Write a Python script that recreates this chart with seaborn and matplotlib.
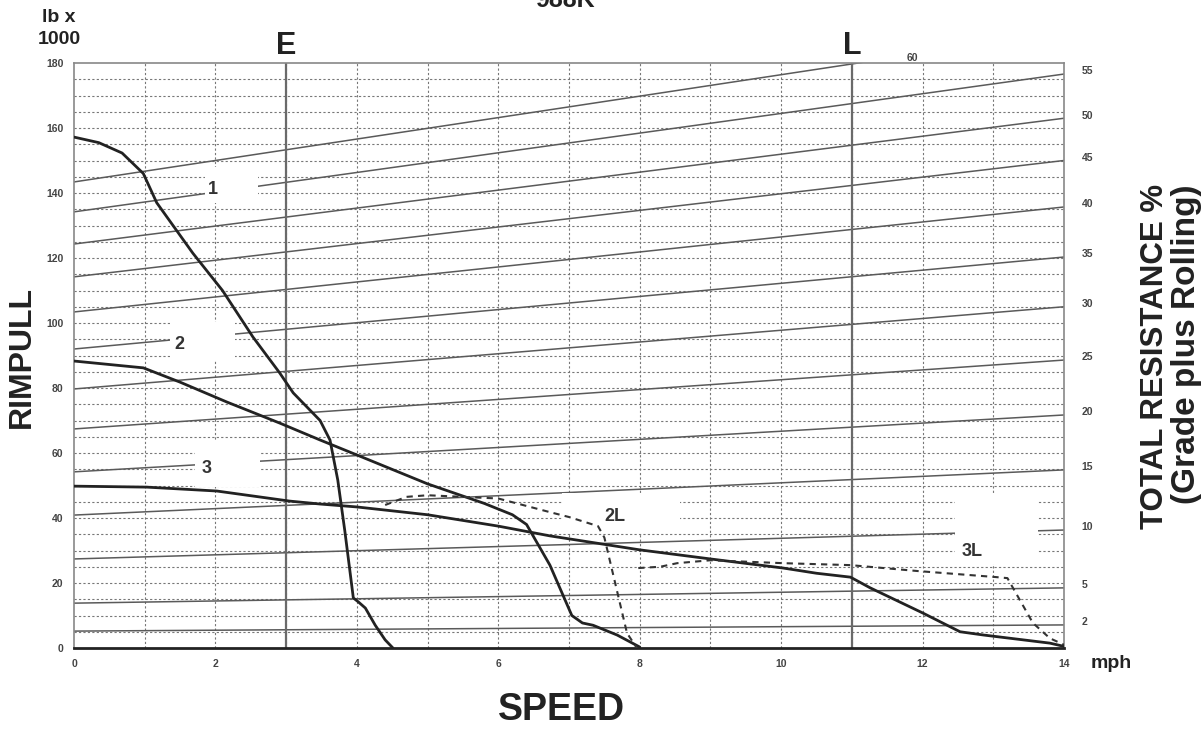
import numpy as np
import pandas as pd
import matplotlib.pyplot as plt
import seaborn as sns
from matplotlib.patches import Rectangle

# Total resistance lines (% grade plus rolling), rimpull in lb x 1000 at 0 and 14 mph
resistance_pct = [60, 55, 50, 45, 40, 35, 30, 25, 20, 15, 10, 5, 2]
rimpull_at_0 = [143.4, 134.2, 124.3, 114.2, 103.4, 92.0, 79.7, 67.4, 54.2, 40.9, 27.4, 13.8, 5.2]
rimpull_at_14 = [189.6, 176.6, 163.0, 150.0, 135.7, 120.3, 105.0, 88.6, 71.7, 54.8, 36.3, 18.5, 7.1]

# Rimpull curves per gear
gear1_speed = [0, 0.35, 0.68, 0.98, 1.17, 1.68, 2.1, 2.53, 2.91, 3.1, 3.48, 3.62, 3.73, 3.83, 3.9, 3.95,
               4.02, 4.12, 4.26, 4.4, 4.51]
gear1_rimpull = [157.2, 155.5, 152.3, 146, 137, 121.5, 110, 95.7, 84.6, 78.5, 70, 64, 51.7, 36, 24, 15.4,
                 14.2, 12.3, 7, 2.5, 0]
gear2_speed = [0, 0.98, 1.5, 2.16, 2.91, 3.48, 4.0, 5.0, 5.8, 6.2, 6.4, 6.73, 7.04, 7.19, 7.34, 7.68, 8.0]
gear2_rimpull = [88.3, 86.2, 81.8, 75.7, 69.2, 64, 59.4, 50.5, 44.5, 41, 38, 25.5, 10, 7.7, 7, 4, 0.3]
gear3_speed = [0, 1.03, 2.02, 3.05, 3.48, 4, 5, 6, 6.73, 8, 9, 10.03, 10.5, 10.98, 11.26, 12.0, 12.53,
               12.86, 13.8, 14]
gear3_rimpull = [49.8, 49.5, 48.3, 45.2, 44.3, 43.4, 41, 37.5, 34.5, 30.2, 27.4, 24.6, 23, 21.8, 18.5,
                 10.8, 5, 4, 1.5, 0.5]
gear2L_speed = [4.4, 4.7, 5.0, 6.0, 6.73, 7.0, 7.41, 7.5, 7.62, 7.82, 7.95]
gear2L_rimpull = [44, 46.5, 47, 46, 41.8, 40.3, 37.5, 34, 23, 4.6, 0.3]
gear3L_speed = [7.98, 8.29, 8.53, 9.0, 10.03, 10.98, 11.92, 13.05, 13.2, 13.56, 13.8, 14.0]
gear3L_rimpull = [24.6, 25, 26.1, 27, 26.1, 25.5, 23.7, 21.8, 21.5, 7.7, 3, 1]

# Curve labels and the white patches behind them (x0, x1, y0, y1)
curve_labels = ['1', '2', '3', '2L', '3L']
label_pos = [(1.9, 141), (1.42, 93.5), (1.8, 55.2), (7.5, 40.6), (12.55, 29.7)]
label_boxes = [(1.85, 2.6, 137, 148), (1.36, 2.28, 88.6, 100.3), (1.71, 2.63, 49.5, 64),
               (6.9, 8.57, 35.4, 47.7), (12.46, 13.63, 26, 47)]

sns.set_style('white')
plt.rcParams['font.family'] = ['Liberation Sans', 'DejaVu Sans']

fig = plt.figure(figsize=(12.04, 7.29), dpi=100)
ax = fig.add_axes([74 / 1204, 1 - 648 / 729, 990 / 1204, 585 / 729])

grid_kw = dict(color='#777777', lw=0.8, ls=(0, (2, 2)), zorder=1)
for x in range(1, 14):
    ax.axvline(x, **grid_kw)
for y in range(5, 180, 5):
    ax.axhline(y, **grid_kw)

# Resistance lines
res = pd.DataFrame({
    'speed': [0] * len(resistance_pct) + [14] * len(resistance_pct),
    'rimpull': rimpull_at_0 + rimpull_at_14,
    'pct': resistance_pct * 2,
})
sns.lineplot(data=res, x='speed', y='rimpull', units='pct', estimator=None, color='#5a5a5a',
             lw=1.1, ax=ax, zorder=2)

# E and L lines
for x in [3, 11]:
    ax.axvline(x, color='#6a6a6a', lw=1.6, zorder=2)

for (x0, x1, y0, y1) in label_boxes:
    ax.add_patch(Rectangle((x0, y0), x1 - x0, y1 - y0, facecolor='white', edgecolor='none', zorder=3))

curve_kw = dict(color='#222222', lw=2, ax=ax, zorder=4)
sns.lineplot(x=gear1_speed, y=gear1_rimpull, **curve_kw)
sns.lineplot(x=gear2_speed, y=gear2_rimpull, **curve_kw)
sns.lineplot(x=gear3_speed, y=gear3_rimpull, **curve_kw)
dash_kw = dict(color='#333333', lw=1.5, ax=ax, zorder=4, linestyle=(0, (3, 2.5)))
sns.lineplot(x=gear2L_speed, y=gear2L_rimpull, **dash_kw)
sns.lineplot(x=gear3L_speed, y=gear3L_rimpull, **dash_kw)

for lab, (x, y) in zip(curve_labels, label_pos):
    ax.text(x, y, lab, fontsize=13, fontweight='bold', color='#333333', ha='left', va='center', zorder=5)

ax.set_xlim(0, 14)
ax.set_ylim(0, 180)
ax.set_xticks(range(0, 15, 2))
ax.set_yticks(range(0, 181, 20))
ax.tick_params(axis='both', labelsize=7.5, colors='#444444', length=4, width=0.8)
ax.tick_params(axis='x', length=0, pad=8)
for t in ax.get_xticklabels() + ax.get_yticklabels():
    t.set_fontweight('bold')
ax.set_xlabel('')
ax.set_ylabel('')
for side in ['left', 'top', 'right']:
    ax.spines[side].set_color('#888888')
    ax.spines[side].set_linewidth(1.2)
ax.spines['bottom'].set_color('#222222')
ax.spines['bottom'].set_linewidth(2)

# Right side resistance labels
for pct, y in zip(resistance_pct[1:], rimpull_at_14[1:]):
    ax.text(14.25, y + 0.8, str(pct), fontsize=7.5, fontweight='bold', color='#444444',
            ha='left', va='center', clip_on=False)
ax.text(11.85, 181.6, str(resistance_pct[0]), fontsize=7.5, fontweight='bold', color='#444444',
        ha='center', va='center', clip_on=False)

ax.text(3, 180.6, 'E', fontsize=22, fontweight='bold', color='#222222', ha='center', va='bottom', clip_on=False)
ax.text(11, 180.6, 'L', fontsize=22, fontweight='bold', color='#222222', ha='center', va='bottom', clip_on=False)

fig.text(59 / 1204, 1 - 17 / 729, 'lb x', fontsize=14, fontweight='bold', ha='center', va='center', color='#222222')
fig.text(59 / 1204, 1 - 39 / 729, '1000', fontsize=14, fontweight='bold', ha='center', va='center', color='#222222')
fig.text(1111 / 1204, 1 - 664 / 729, 'mph', fontsize=14, fontweight='bold', ha='center', va='center', color='#222222')
fig.text(562 / 1204, 1 - 710 / 729, 'SPEED', fontsize=27, fontweight='bold', ha='center', va='center', color='#222222')
fig.text(22 / 1204, 1 - 357 / 729, 'RIMPULL', fontsize=23, fontweight='bold', ha='center', va='center',
         rotation=90, color='#222222')
fig.text(1155 / 1204, 1 - 356 / 729, 'TOTAL RESISTANCE %', fontsize=22.5, fontweight='bold',
         ha='center', va='center', rotation=90, color='#222222')
fig.text(1186 / 1204, 1 - 344 / 729, '(Grade plus Rolling)', fontsize=24, fontweight='bold',
         ha='center', va='center', rotation=90, color='#222222')
fig.text(565 / 1204, 1 - 7 / 729, '988K', fontsize=18, fontweight='bold', ha='center', va='baseline',
         color='#222222')

fig.savefig('out.png', dpi=100, facecolor='white')
